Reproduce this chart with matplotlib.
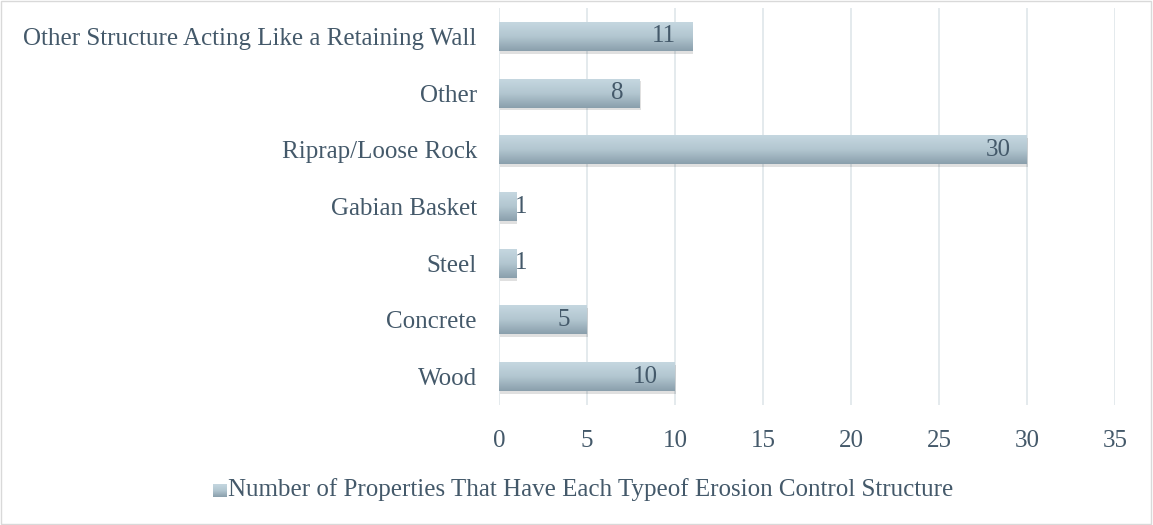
import matplotlib.pyplot as plt
import numpy as np
from matplotlib.patches import Rectangle
from matplotlib.colors import LinearSegmentedColormap

# data
categories = ['Wood', 'Concrete', 'Steel', 'Gabian Basket', 'Riprap/Loose Rock',
              'Other', 'Other Structure Acting Like a Retaining Wall']
counts = [10, 5, 1, 1, 30, 8, 11]
series_name = 'Number of Properties That Have Each Typeof Erosion Control Structure'

txt_col = '#44596a'
plt.rcParams['font.family'] = ['Liberation Serif', 'DejaVu Serif']

fig = plt.figure(figsize=(11.53, 5.25), dpi=100)
ax = fig.add_axes([499/1153, 1 - 405/525, (1115-499)/1153, (405-8)/525])

y = np.arange(len(categories))
bh = 0.51
grad = np.linspace(0, 1, 64).reshape(-1, 1)
cmap = LinearSegmentedColormap.from_list('bar', ['#c5d7e0', '#b2c6d0', '#8a9fac'])

for yi, v in zip(y, counts):
    # shadow under each bar
    ax.add_patch(Rectangle((0.05, yi - bh/2 - 0.05), v, bh, color='#000000', alpha=0.12,
                           lw=0, zorder=2))
    ax.imshow(grad, cmap=cmap, aspect='auto', extent=(0, v, yi - bh/2, yi + bh/2),
              origin='upper', zorder=3)
    if v >= 3:
        ax.text(v - 0.95, yi, str(v), ha='right', va='center', fontsize=18, color=txt_col, zorder=4)
    else:
        ax.text(v - 0.1, yi, str(v), ha='left', va='center', fontsize=18, color=txt_col, zorder=4)

ax.set_xlim(0, 35)
ax.set_ylim(-0.5, len(categories) - 0.5)
ax.set_xticks(range(0, 36, 5))
ax.set_yticks(y)
ax.set_yticklabels(categories)
ax.tick_params(length=0, labelsize=18, colors=txt_col)
ax.tick_params(axis='x', pad=18)
ax.tick_params(axis='y', pad=16)
ax.grid(axis='x', color='#dfe6ea', lw=1.2, zorder=0)
ax.set_axisbelow(True)
for s in ax.spines.values():
    s.set_visible(False)

# legend
lax = fig.add_axes([213/1153, 1 - 497/525, 13/1153, 13/525])
lax.imshow(grad, cmap=cmap, aspect='auto', extent=(0, 1, 0, 1), origin='upper')
lax.axis('off')
fig.text(228/1153, 1 - 490/525, series_name, fontsize=18, color=txt_col, va='center', ha='left')

fig.add_artist(Rectangle((0.0005, 0.001), 0.998, 0.997, transform=fig.transFigure, fill=False,
                         edgecolor='#d9d9d9', lw=1))

fig.savefig('out.png', dpi=100)
